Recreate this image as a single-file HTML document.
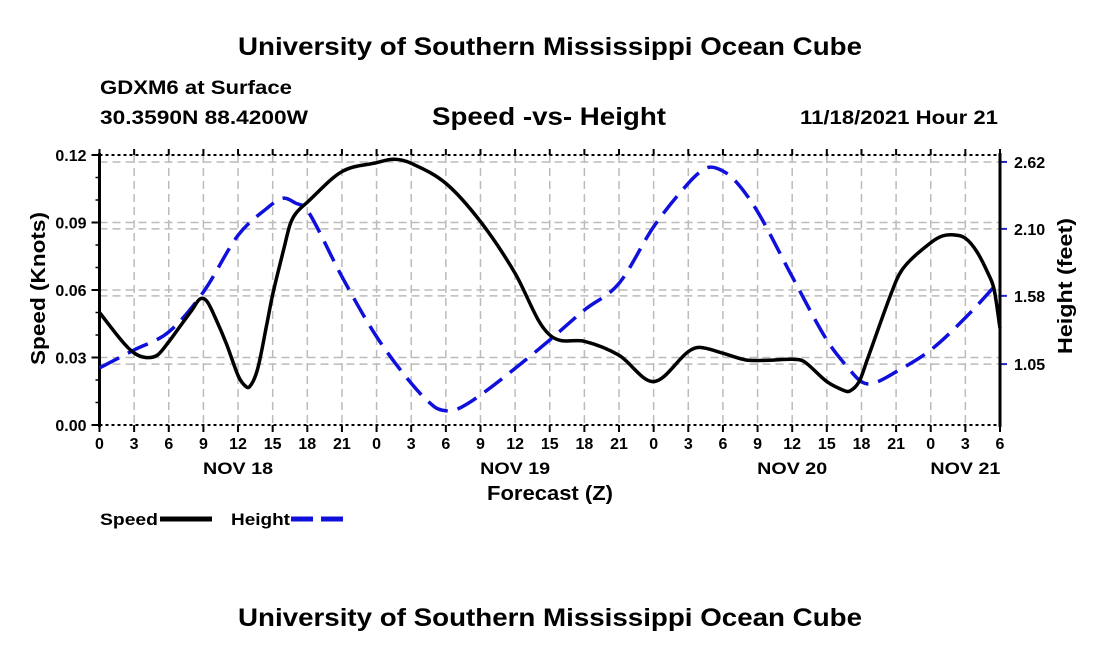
<!DOCTYPE html>
<html><head><meta charset="utf-8"><style>
body{margin:0;background:#fff;width:1100px;height:650px;overflow:hidden}
svg{font-family:"Liberation Sans",Arial,sans-serif;font-weight:bold}
</style></head><body>
<svg id="c" width="1100" height="650">
<text x="238" y="55" font-size="25" textLength="624" lengthAdjust="spacingAndGlyphs">University of Southern Mississippi Ocean Cube</text>
<text x="100" y="94" font-size="19" textLength="192" lengthAdjust="spacingAndGlyphs">GDXM6 at Surface</text>
<text x="100" y="124" font-size="19" textLength="208" lengthAdjust="spacingAndGlyphs">30.3590N  88.4200W</text>
<text x="432" y="125" font-size="25" textLength="234" lengthAdjust="spacingAndGlyphs">Speed -vs- Height</text>
<text x="800" y="124" font-size="19" textLength="198" lengthAdjust="spacingAndGlyphs">11/18/2021 Hour 21</text>
<g id="grid"></g><g id="axes"></g><g id="series"></g>
<text transform="translate(45,365) rotate(-90)" font-size="20" textLength="153" lengthAdjust="spacingAndGlyphs">Speed (Knots)</text>
<text transform="translate(1072,354) rotate(-90)" font-size="20" textLength="136" lengthAdjust="spacingAndGlyphs">Height (feet)</text>
<text x="487" y="500" font-size="20" textLength="126" lengthAdjust="spacingAndGlyphs">Forecast (Z)</text>
<g><text x="100" y="525" font-size="17" textLength="58" lengthAdjust="spacingAndGlyphs">Speed</text><line x1="160" y1="519" x2="212" y2="519" stroke="#000" stroke-width="5"/></g>
<g><text x="231" y="525" font-size="17" textLength="59" lengthAdjust="spacingAndGlyphs">Height</text><line x1="291" y1="519" x2="343" y2="519" stroke="#1010dd" stroke-width="5" stroke-dasharray="22,8"/></g>
<text x="238" y="626" font-size="25" textLength="624" lengthAdjust="spacingAndGlyphs">University of Southern Mississippi Ocean Cube</text>
</svg>
<script>
const speedHours=[0,2,3,4,5,6,7,8,8.7,9.3,10,11,12,12.5,13,13.7,14.5,15,16,16.5,17,18,21,24,25.5,27,30,33,36,38,39,40,42,45,48,51,52,54,56,58,60,61,63,64.5,65,65.8,66.5,69,70,72,73,74,75,76,77,77.5,78];
const speedValues=[0.050,0.037,0.032,0.030,0.031,0.037,0.044,0.051,0.056,0.055,0.048,0.036,0.022,0.018,0.017,0.025,0.045,0.058,0.079,0.089,0.094,0.099,0.1126,0.1166,0.1181,0.1163,0.1074,0.0904,0.0674,0.0467,0.040,0.0375,0.0372,0.031,0.0193,0.0326,0.0345,0.0319,0.0289,0.0288,0.0292,0.0283,0.0193,0.0153,0.0151,0.0193,0.029,0.064,0.072,0.081,0.084,0.0845,0.083,0.077,0.067,0.060,0.043];
const heightHours=[0,3,6,9,12,14.5,15.9,17,18,21,24,27,29,30,31,33,36,39,42,45,48,51,52.5,53.5,55,57,60,63,65,66,67,69,72,75,78];
const heightValues=[1.02,1.16,1.30,1.61,2.05,2.26,2.338,2.30,2.247,1.729,1.263,0.901,0.719,0.688,0.70,0.81,1.017,1.237,1.47,1.677,2.117,2.454,2.57,2.57,2.48,2.234,1.729,1.237,1.004,0.913,0.90,0.99,1.16,1.41,1.70];
const speedTicks=["0.00","0.03","0.06","0.09","0.12"];
const heightTicks=["1.05","1.58","2.10","2.62"];
const hourLabels=["0","3","6","9","12","15","18","21","0","3","6","9","12","15","18","21","0","3","6","9","12","15","18","21","0","3","6"];
const dayLabels=["NOV 18","NOV 19","NOV 20","NOV 21"];
const dayLabelHours=[12,36,60,75];
const L=99.5,R=1000,T=155,B=425,H0=0,H1=78;
const xS=h=>L+(h-H0)/(H1-H0)*(R-L);
const yS=v=>B-v/0.12*(B-T);
const y2S=v=>B-(v-0.577)/(2.674-0.577)*(B-T);
const NS="http://www.w3.org/2000/svg";
function mk(p,t,a){const e=document.createElementNS(NS,t);for(const k in a)e.setAttribute(k,a[k]);p.appendChild(e);return e;}
const grid=document.getElementById('grid'),axes=document.getElementById('axes'),ser=document.getElementById('series');
const gs={stroke:"#bbb","stroke-width":1.5,"stroke-dasharray":"8,5"};
hourLabels.forEach((lb,i)=>{const x=xS(i*3);
 const g=mk(grid,'line',Object.assign({x1:x,x2:x,y1:T,y2:B},gs));
 
 
 mk(axes,'line',{x1:x,x2:x,y1:B,y2:B+7,stroke:"#000","stroke-width":2});
 mk(axes,'line',{x1:x,x2:x,y1:T,y2:T-6,stroke:"#000","stroke-width":2});
 const t=mk(axes,'text',{x:x,y:B+24,"font-size":16,"text-anchor":"middle"});t.textContent=lb;
 
 
});
dayLabels.forEach((d,i)=>{const t=mk(axes,'text',{x:xS(dayLabelHours[i])-35,y:B+49,"font-size":17,textLength:70,lengthAdjust:"spacingAndGlyphs"});t.textContent=d;
 
 });
speedTicks.forEach(s=>{const y=yS(+s);
 if(+s>0&&+s<0.12){const g=mk(grid,'line',Object.assign({x1:L,x2:R,y1:y,y2:y},gs));
 
 }
 mk(axes,'line',{x1:L-8,x2:L,y1:y,y2:y,stroke:"#000","stroke-width":2});
 const t=mk(axes,'text',{x:L-13,y:y+6,"font-size":16,"text-anchor":"end"});t.textContent=s;
 
 });
for(let v=0.01;v<0.12;v+=0.01){mk(axes,'line',{x1:L-4,x2:L,y1:yS(v),y2:yS(v),stroke:"#000","stroke-width":1.5});}
heightTicks.forEach(s=>{const y=y2S(+s);
 const g=mk(grid,'line',Object.assign({x1:L,x2:R,y1:y,y2:y},gs));
 
 
 mk(axes,'line',{x1:R,x2:R+7,y1:y,y2:y,stroke:"#2222cc","stroke-width":2});
 const t=mk(axes,'text',{x:R+14,y:y+6,"font-size":16});t.textContent=s;
 
 });
mk(axes,'line',{x1:L,x2:R,y1:T,y2:T,stroke:"#000","stroke-width":2,"stroke-dasharray":"3,3"});
mk(axes,'line',{x1:L,x2:R,y1:B,y2:B,stroke:"#000","stroke-width":2,"stroke-dasharray":"3,3"});
mk(axes,'line',{x1:L,x2:L,y1:T-2,y2:B+2,stroke:"#000","stroke-width":3});
mk(axes,'line',{x1:R,x2:R,y1:T-2,y2:B+2,stroke:"#000","stroke-width":3});
function path(xs,ys,fx,fy){const p=xs.map((h,i)=>[xS(h),fy(ys[i])]);let d=`M${p[0][0]},${p[0][1]}`;
 for(let i=0;i<p.length-1;i++){const p0=p[i-1]||p[i],p1=p[i],p2=p[i+1],p3=p[i+2]||p2;
 const dx=p2[0]-p1[0];
 const m1=(p2[1]-p0[1])/((p2[0]-p0[0])||1),m2=(p3[1]-p1[1])/((p3[0]-p1[0])||1);
 d+=` C${p1[0]+dx/3},${p1[1]+m1*dx/3} ${p2[0]-dx/3},${p2[1]-m2*dx/3} ${p2[0]},${p2[1]}`;}return d;}
const hp=mk(ser,'path',{d:path(heightHours,heightValues,xS,y2S),fill:"none",stroke:"#1010dd","stroke-width":3.5,"stroke-dasharray":"22,10"});


const sp=mk(ser,'path',{d:path(speedHours,speedValues,xS,yS),fill:"none",stroke:"#000","stroke-width":3.5});


</script>
</body></html>
